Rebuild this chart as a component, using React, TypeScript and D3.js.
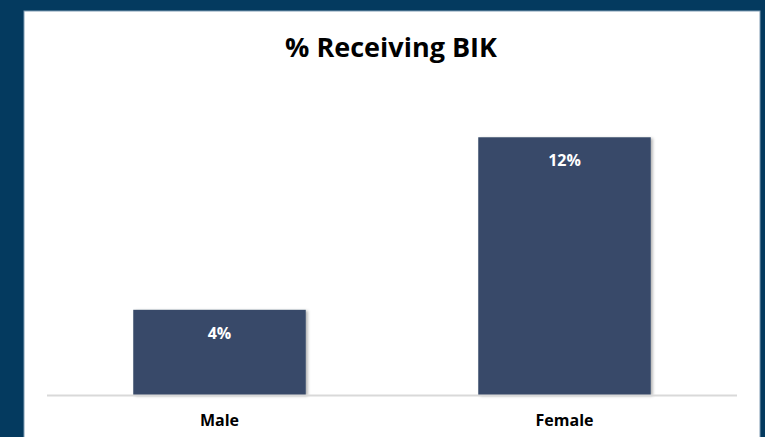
import React, { useEffect, useRef } from "react";
import { select, scaleBand, scaleLinear } from "d3";

const categories = ["Male", "Female"];
const values = [4.0, 12.1];
const labels = ["4%", "12%"];
const title = "% Receiving BIK";

const App = (): JSX.Element => {
    const ref = useRef<SVGSVGElement>(null);

    useEffect(() => {
        const width = 765;
        const height = 437;
        const svg = select(ref.current).attr("width", width).attr("height", height);
        svg.selectAll("*").remove();

        const font = "'Open Sans', sans-serif";

        // dark frame and white panel
        svg.append("rect").attr("width", width).attr("height", height).attr("fill", "#043A5F");
        svg.append("rect")
            .attr("x", 24).attr("y", 11).attr("width", 736).attr("height", 440)
            .attr("fill", "#ffffff").attr("stroke", "#7f9bb3").attr("stroke-width", 1);

        const defs = svg.append("defs");
        const f = defs.append("filter").attr("id", "shadow").attr("x", "-10%").attr("y", "-10%").attr("width", "125%").attr("height", "125%");
        f.append("feDropShadow").attr("dx", 2).attr("dy", 1).attr("stdDeviation", 1.5).attr("flood-color", "#000").attr("flood-opacity", 0.3);

        svg.append("text")
            .attr("x", 391).attr("y", 57)
            .attr("text-anchor", "middle")
            .style("font-family", font).style("font-weight", 700).style("font-size", "27px")
            .attr("fill", "#000")
            .text(title);

        const x_scale = scaleBand().domain(categories).range([47, 737]).paddingInner(0.5).paddingOuter(0.25);
        const y_scale = scaleLinear().domain([0, 14]).range([395, 395 - 14 * 21.3]);

        svg.selectAll("rect.bar")
            .data(values)
            .join("rect")
            .attr("class", "bar")
            .attr("x", (_, i) => x_scale(categories[i]) || 0)
            .attr("y", (d) => y_scale(d))
            .attr("width", x_scale.bandwidth())
            .attr("height", (d) => y_scale(0) - y_scale(d))
            .attr("fill", "#374A69")
            .attr("filter", "url(#shadow)");

        svg.append("line")
            .attr("x1", 47).attr("x2", 737)
            .attr("y1", y_scale(0) + 0.5).attr("y2", y_scale(0) + 0.5)
            .attr("stroke", "#d9d9d9").attr("stroke-width", 2);

        svg.selectAll("text.val")
            .data(values)
            .join("text")
            .attr("class", "val")
            .attr("x", (_, i) => (x_scale(categories[i]) || 0) + x_scale.bandwidth() / 2)
            .attr("y", (d) => y_scale(d) + 29)
            .attr("text-anchor", "middle")
            .style("font-family", font).style("font-weight", 700).style("font-size", "16px")
            .attr("fill", "#ffffff")
            .text((_, i) => labels[i]);

        svg.selectAll("text.cat")
            .data(categories)
            .join("text")
            .attr("class", "cat")
            .attr("x", (d) => (x_scale(d) || 0) + x_scale.bandwidth() / 2)
            .attr("y", 426)
            .attr("text-anchor", "middle")
            .style("font-family", font).style("font-weight", 700).style("font-size", "16px")
            .attr("fill", "#000")
            .text((d) => d);
    }, []);

    return (
        <div style={{ position: "absolute", left: 0, top: 0 }}>
            <svg ref={ref} style={{ display: "block" }} />
        </div>
    );
};

export default App;
